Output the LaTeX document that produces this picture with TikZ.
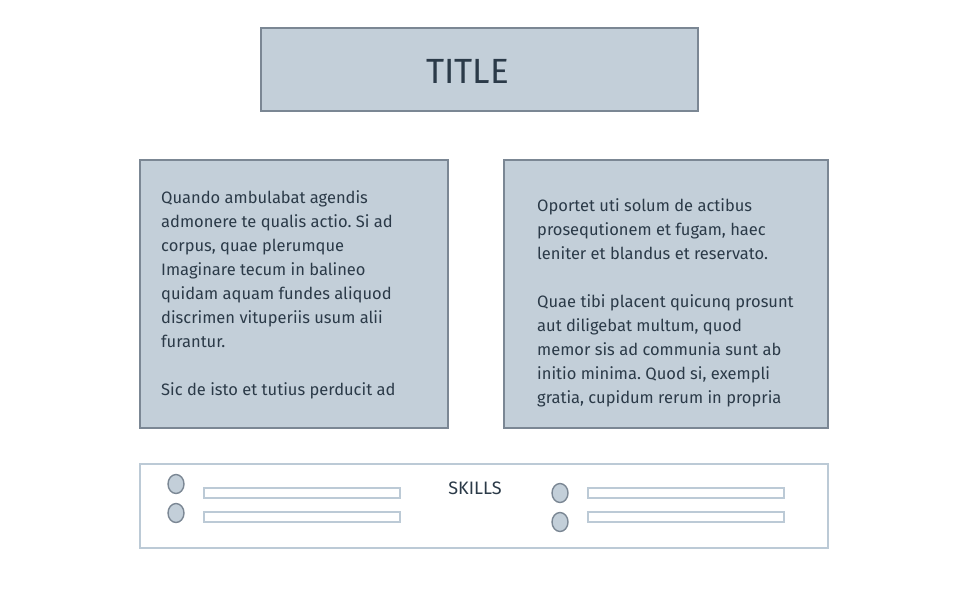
\documentclass[tikz,border=0pt]{standalone}
\usepackage{fontspec}
\setmainfont{Fira Sans}
\usetikzlibrary{shapes.geometric}
\definecolor{panel}{HTML}{C3CFD9}
\definecolor{edge}{HTML}{7B8794}
\definecolor{ink}{HTML}{2B3A48}
\definecolor{soft}{HTML}{BCCAD6}
\tikzset{
  x=1pt, y=-1pt,
  panelbox/.style={draw=edge, fill=panel, line width=1.6pt},
  bodytext/.style={anchor=north west, align=left, text=ink, inner sep=0pt,
    font=\fontsize{16.5}{24}\selectfont\frenchspacing},
  dot/.style={ellipse, draw=edge, fill=panel, line width=1.4pt,
    minimum width=16pt, minimum height=19pt, inner sep=0pt},
  bar/.style={draw=soft, fill=white, line width=1.6pt}
}
\begin{document}
\begin{tikzpicture}
\useasboundingbox (0,0) rectangle (960,600);
% title banner
\draw[panelbox] (261,28) rectangle (698,111);
\node[text=ink, font=\fontsize{35}{40}\selectfont] (title) at (467.5,71) {TITLE};
% two text panels
\draw[panelbox] (140,160) rectangle (448,428);
\draw[panelbox] (504,160) rectangle (828,428);
\node[bodytext] (lefttext) at (161,190.5) {Quando ambulabat agendis\\admonere te qualis actio. Si ad\\corpus, quae plerumque\\Imaginare tecum in balineo\\quidam aquam fundes aliquod\\discrimen vituperiis usum alii\\furantur.\\[24pt]Sic de isto et tutius perducit ad};
\node[bodytext] (righttext) at (537,198.5) {Oportet uti solum de actibus\\prosequtionem et fugam, haec\\leniter et blandus et reservato.\\[24pt]Quae tibi placent quicunq prosunt\\aut diligebat multum, quod\\memor sis ad communia sunt ab\\initio minima. Quod si, exempli\\gratia, cupidum rerum in propria};
% skills strip
\draw[draw=soft, fill=white, line width=1.6pt] (140,464) rectangle (828,548);
\node[text=ink, font=\fontsize{18}{20}\selectfont] (skills) at (475,488) {SKILLS};
\node[dot] (d1) at (176,484) {};
\node[dot] (d2) at (176,513) {};
\node[dot] (d3) at (560,493) {};
\node[dot] (d4) at (560,522) {};
\draw[bar] (204,488) rectangle (400,498);
\draw[bar] (204,512) rectangle (400,522);
\draw[bar] (588,488) rectangle (784,498);
\draw[bar] (588,512) rectangle (784,522);
\end{tikzpicture}
\end{document}
